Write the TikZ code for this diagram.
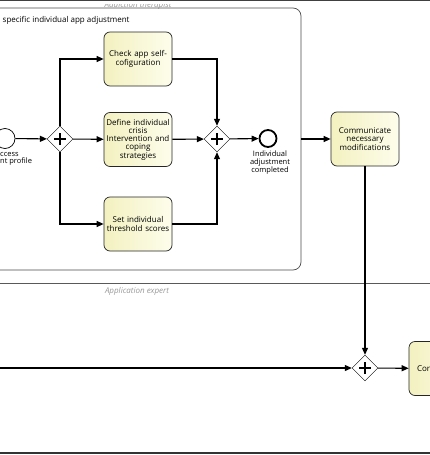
\documentclass[tikz,border=0pt]{standalone}
\usepackage{fontspec}
\setmainfont{Open Sans}
\usetikzlibrary{arrows.meta,shapes.geometric}

\definecolor{taskdark}{RGB}{243,241,192}
\definecolor{tasklight}{RGB}{253,253,236}

\begin{document}
\begin{tikzpicture}[x=1pt, y=-1pt,
    task/.style = {draw=black!85, line width=.7pt, rounded corners=6pt,
      minimum width=68pt, minimum height=54pt, text width=66pt, align=center,
      inner sep=1pt, left color=taskdark, right color=tasklight,
      font=\fontsize{8}{8.2}\selectfont},
    gate/.style = {draw, diamond, minimum width=26pt, minimum height=26pt,
      inner sep=0pt, fill=white,
      path picture={\draw[line width=1.6pt] (path picture bounding box.center)
        ++(-6pt,0) -- ++(12pt,0) (path picture bounding box.center)
        ++(0,-6pt) -- ++(0,12pt);}},
    evt/.style = {draw, circle, minimum size=20pt, inner sep=0pt, fill=white},
    flow/.style = {-{Triangle[length=7pt,width=6pt]}, line width=1.1pt},
    lane/.style = {draw=black!65, line width=.8pt},
    lbl/.style = {font=\fontsize{7.5}{7.3}\selectfont, align=center, inner sep=0pt},
    lanelbl/.style = {font=\fontsize{8}{9}\itshape, text=black!40, inner sep=0pt}]
  \useasboundingbox (0,0) rectangle (430,455);
  \clip (0,0) rectangle (430,455);
  \fill[white] (0,0) rectangle (430,455);
  \begin{scope}
    \clip (0,4) rectangle (430,20);
    \node[lanelbl] (lt) at (138,5) {Addiction therapist};
  \end{scope}
  \draw[line width=1.4pt, draw=black!75] (0,0.5) -- (430,0.5);
  \draw[lane] (0,283) -- (430,283);
  \draw[line width=1.4pt, draw=black!80] (0,453) -- (430,453);
  \node[lanelbl] (le) at (137,291) {Application expert};
  \node[draw=black!70, line width=.7pt, rounded corners=8pt,
    minimum width=321pt, minimum height=262pt] (sub) at (140.5,139) {};
  \node[anchor=west, font=\fontsize{8}{9}\selectfont, inner sep=0pt] (st)
    at (2.5,20) {specific individual app adjustment};
  \node[evt, line width=.7pt] (s) at (5,138.5) {};
  \node[lbl, align=left, anchor=north west] (sl) at (0,152) {ccess\\nt profile};
  \node[gate] (g1) at (60,139) {};
  \node[task] (t1) at (138,59) {Check app self-\\cofiguration};
  \node[task] (t2) at (138,139.5) {Define individual\\crisis\\Intervention and\\coping\\strategies};
  \node[task] (t3) at (138,224) {Set individual\\threshold scores};
  \node[gate] (g2) at (217,139) {};
  \node[evt, line width=1.8pt, minimum size=17pt] (e) at (268,138.5) {};
  \node[lbl, anchor=north] (el) at (270,151) {Individual\\adjustment\\completed};
  \node[task] (t4) at (365,139) {Communicate\\necessary\\modifications};
  \node[gate] (g3) at (365,368) {};
  \node[task, text width=52pt, align=left] (t5) at (443,368.5) {Cor};
  \coordinate (in) at (-5,368);
  \draw[flow] (s) -- (g1);
  \draw[flow] (g1.north) |- (t1);
  \draw[flow] (g1) -- (t2);
  \draw[flow] (g1.south) |- (t3);
  \draw[flow] (t1) -| (g2.north);
  \draw[flow] (t2) -- (g2);
  \draw[flow] (t3) -| (g2.south);
  \draw[flow] (g2) -- (e);
  \draw[flow] (sub.east) -- (t4);
  \draw[flow] (t4) -- (g3);
  \draw[flow] (in) -- (g3);
  \draw[flow] (g3) -- (t5);
\end{tikzpicture}
\end{document}
